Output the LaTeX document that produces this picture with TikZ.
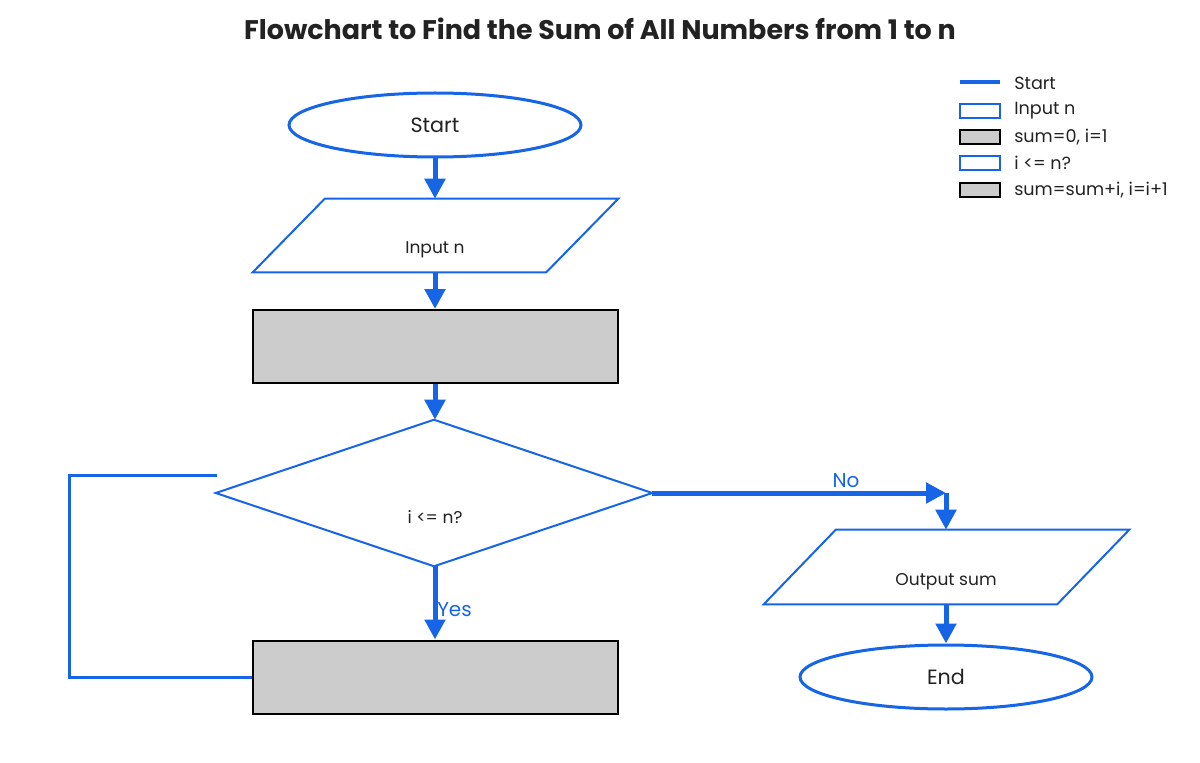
\documentclass[tikz,border=0pt]{standalone}
\usepackage{fontspec}
\setmainfont{Poppins}
\usetikzlibrary{arrows.meta,shapes.geometric,calc}
\definecolor{fblue}{RGB}{21,101,230}
\definecolor{fgray}{RGB}{204,204,204}
\definecolor{ftext}{RGB}{34,34,34}
\tikzset{
  term/.style={ellipse,draw=fblue,line width=2.25pt,fill=white,minimum width=219pt,minimum height=48pt,inner sep=0pt,text=ftext,font=\fontsize{15.5}{18}\selectfont},
  procbox/.style={rectangle,draw=black,line width=1.5pt,fill=fgray,minimum width=273.75pt,minimum height=54.75pt,inner sep=0pt},
  frame/.style={rectangle,inner sep=0pt},
  iobox/.style={draw=fblue,line width=1.5pt,fill=white,line join=miter},
  small/.style={text=ftext,font=\fontsize{12.8}{15}\selectfont,inner sep=0pt},
  arr/.style={draw=fblue,line width=3.75pt,-{Triangle[width=15pt,length=15pt]}},
  loopline/.style={draw=fblue,line width=2.25pt},
  lbl/.style={text=fblue,font=\fontsize{15}{17}\selectfont,inner sep=0pt},
  legtext/.style={text=ftext,font=\fontsize{13.2}{15}\selectfont,anchor=west,inner sep=0pt},
  legblue/.style={draw=fblue,line width=1.5pt,fill=white,minimum width=30pt,minimum height=10.5pt,inner sep=0pt},
  leggray/.style={draw=black,line width=1.5pt,fill=fgray,minimum width=30pt,minimum height=10.5pt,inner sep=0pt},
}
\begin{document}
\begin{tikzpicture}[x=0.75pt,y=-0.75pt]
\useasboundingbox (0,0) rectangle (1200,763);
% title
\node[font=\fontsize{20.2}{24}\selectfont\bfseries,text=ftext] (title) at (600,29) {Flowchart to Find the Sum of All Numbers from 1 to n};
% start
\node[term] (start) at (435,125) {Start};
% input parallelogram
\node[frame,minimum width=273.75pt,minimum height=54.75pt] (inp) at (435.5,235.5) {};
\draw[iobox] ($(inp.north west)+(72,0)$) -- (inp.north east) -- ($(inp.south east)-(72,0)$) -- (inp.south west) -- cycle;
\node[small] (inpt) at (435,250) {Input n};
% init
\node[procbox] (init) at (435.5,346.5) {};
% decision
\node[frame,minimum width=327pt,minimum height=109.5pt] (dec) at (434,493) {};
\draw[iobox] (dec.north) -- (dec.east) -- (dec.south) -- (dec.west) -- cycle;
\node[small] (dect) at (435,517) {i <= n?};
% update
\node[procbox] (upd) at (435.5,677) {};
% output
\node[frame,minimum width=273.75pt,minimum height=55.5pt] (out) at (946.5,567) {};
\draw[iobox] ($(out.north west)+(72,0)$) -- (out.north east) -- ($(out.south east)-(72,0)$) -- (out.south west) -- cycle;
\node[small] (outt) at (946,582) {Output sum};
% end
\node[term] (end) at (946,677) {End};
% arrows
\draw[arr] (start.south) -- (inp.north -| start.south);
\draw[arr] (inp.south -| start.south) -- (init.north -| start.south);
\draw[arr] (init.south -| start.south) -- (dec.north -| start.south);
\draw[arr] (dec.south -| start.south) -- (upd.north -| start.south);
\node[lbl,anchor=west] (yes) at (437,610) {Yes};
\coordinate (corner) at (946,493);
\draw[arr] (dec.east) -- (corner);
\draw[arr] (corner) -- (out.north -| corner);
\node[lbl] (no) at (846,481) {No};
\draw[arr] (out.south -| end.north) -- (end.north);
% loop back
\coordinate (loopend) at (217,475);
\draw[loopline] (upd.west) -- ++(-183,0) |- (loopend);
% legend
\coordinate (l0a) at (960,82);
\coordinate (l0b) at (1000,82);
\draw[draw=fblue,line width=3pt] (l0a) -- (l0b);
\node[legtext] (lt0) at (1014,83) {Start};
\node[legblue] (lb1) at (980,111) {};
\node[legtext] (lt1) at (1014,111) {Input n};
\node[leggray] (lb2) at (980,137) {};
\node[legtext] (lt2) at (1014,137) {sum=0, i=1};
\node[legblue] (lb3) at (980,163) {};
\node[legtext] (lt3) at (1014,163) {i <= n?};
\node[leggray] (lb4) at (980,190) {};
\node[legtext] (lt4) at (1014,190) {sum=sum+i, i=i+1};
\end{tikzpicture}
\end{document}
